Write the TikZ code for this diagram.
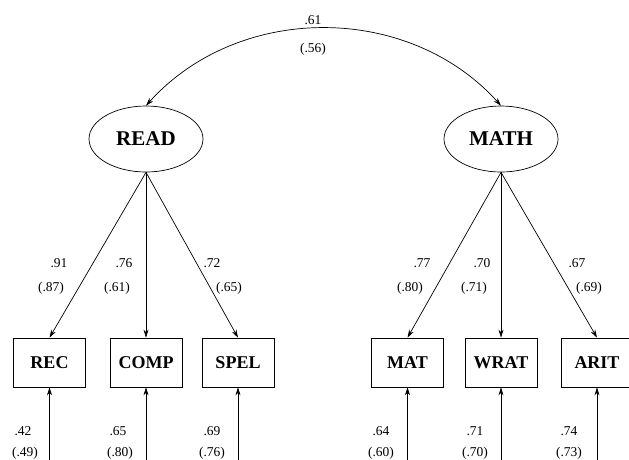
\documentclass[tikz,border=0pt]{standalone}
\usepackage{fontspec}
\setmainfont{Liberation Serif}
\usetikzlibrary{arrows.meta, shapes.geometric}
\tikzset{every node/.append style={font=\fontsize{13.5}{15}\selectfont}}
\tikzset{
  latent/.style={draw, ellipse, minimum width=114pt, minimum height=66pt,
    inner sep=0pt, font=\fontsize{21}{24}\selectfont\bfseries},
  manifest/.style={draw, rectangle, minimum width=72pt, minimum height=49pt,
    inner sep=0pt, font=\fontsize{18}{20}\selectfont\bfseries}
}

\begin{document}
\begin{tikzpicture}[x=1pt, y=-1pt, line width=0.7pt, >={Stealth[length=8pt, width=5pt]}]
    \useasboundingbox (0,0) rectangle (629,459);
    % factors
    \node[latent] (read) at (146,139) {READ};
    \node[latent] (math) at (501,139) {MATH};
    % indicators
    \node[manifest] (rec)  at (49.5,362.5) {REC};
    \node[manifest] (comp) at (146,362.5) {COMP};
    \node[manifest] (spel) at (238,362.5) {SPEL};
    \node[manifest] (mat)  at (407.5,362.5) {MAT};
    \node[manifest] (wrat) at (501,362.5) {WRAT};
    \node[manifest] (arit) at (597,362.5) {ARIT};
    % correlation
    \draw[<->] (read.north) to[out=48, in=132] (math.north);
    \node (r1) at (313,20) {.61};
    \node (r2) at (313,49) {(.56)};
    % loadings
    \draw[->] (read.south) -- (rec.north);
    \draw[->] (read.south) -- (comp.north);
    \draw[->] (read.south) -- (spel.north);
    \draw[->] (math.south) -- (mat.north);
    \draw[->] (math.south) -- (wrat.north);
    \draw[->] (math.south) -- (arit.north);
    \node (l1a) at (59,263) {.91};
    \node (l1b) at (51,288) {(.87)};
    \node (l2a) at (124,263) {.76};
    \node (l2b) at (117,288) {(.61)};
    \node (l3a) at (212,263) {.72};
    \node (l3b) at (229,288) {(.65)};
    \node (l4a) at (422,263) {.77};
    \node (l4b) at (410,288) {(.80)};
    \node (l5a) at (482,263) {.70};
    \node (l5b) at (474,288) {(.71)};
    \node (l6a) at (577,263) {.67};
    \node (l6b) at (589,288) {(.69)};
    % errors
    \coordinate (erec)  at (49.5,470);
    \coordinate (ecomp) at (146,470);
    \coordinate (espel) at (238,470);
    \coordinate (emat)  at (407.5,470);
    \coordinate (ewrat) at (501,470);
    \coordinate (earit) at (597,470);
    \draw[->] (erec) -- (rec.south);
    \draw[->] (ecomp) -- (comp.south);
    \draw[->] (espel) -- (spel.south);
    \draw[->] (emat) -- (mat.south);
    \draw[->] (ewrat) -- (wrat.south);
    \draw[->] (earit) -- (arit.south);
    \node (e1a) at (23,431) {.42};
    \node (e1b) at (25,453) {(.49)};
    \node (e2a) at (118,431) {.65};
    \node (e2b) at (120,453) {(.80)};
    \node (e3a) at (212,431) {.69};
    \node (e3b) at (212,453) {(.76)};
    \node (e4a) at (381,431) {.64};
    \node (e4b) at (381,453) {(.60)};
    \node (e5a) at (475,431) {.71};
    \node (e5b) at (475,453) {(.70)};
    \node (e6a) at (569,431) {.74};
    \node (e6b) at (569,453) {(.73)};
\end{tikzpicture}
\end{document}
